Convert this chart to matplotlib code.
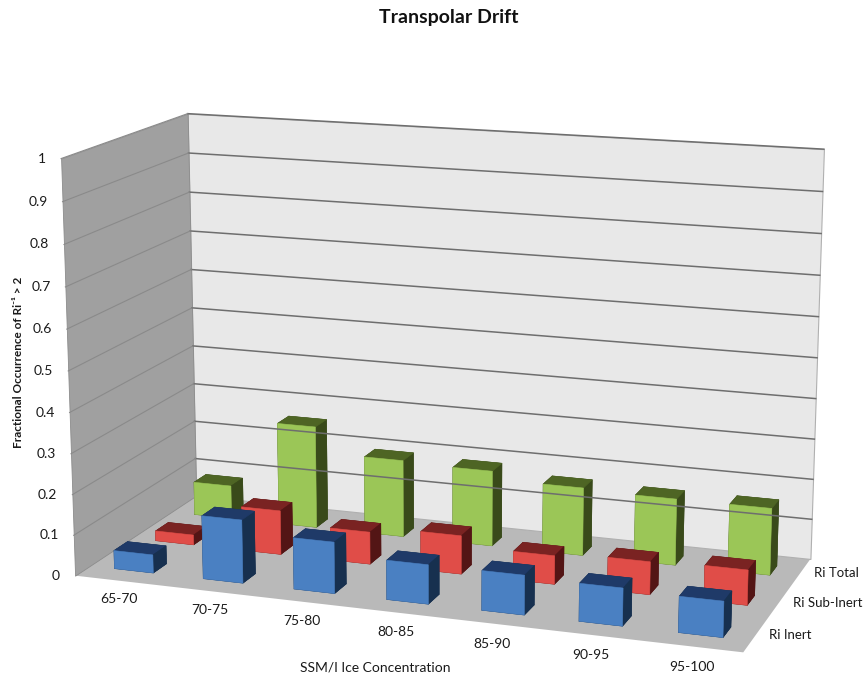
import matplotlib
matplotlib.use("Agg")
import matplotlib.pyplot as plt
import numpy as np
from mpl_toolkits.mplot3d import proj3d
from mpl_toolkits.mplot3d.art3d import Poly3DCollection

plt.rcParams['font.family'] = ['Lato', 'DejaVu Sans']

# ---- data -------------------------------------------------------------
categories = ["65-70", "70-75", "75-80", "80-85", "85-90", "90-95", "95-100"]
series_names = ["Ri Inert", "Ri Sub-Inert", "Ri Total"]
ri_inert = [0.045, 0.155, 0.125, 0.095, 0.095, 0.09, 0.085]
ri_sub_inert = [0.025, 0.11, 0.08, 0.095, 0.07, 0.08, 0.085]
ri_total = [0.085, 0.26, 0.195, 0.19, 0.17, 0.165, 0.165]
z_ticks = [0, 0.1, 0.2, 0.3, 0.4, 0.5, 0.6, 0.7, 0.8, 0.9, 1]
z_tick_labels = ["0", "0.1", "0.2", "0.3", "0.4", "0.5", "0.6", "0.7", "0.8", "0.9", "1"]

series_values = [ri_inert, ri_sub_inert, ri_total]
# front, top, right-side shades for each series
series_colors = [
    ("#4a80c2", "#1f3a68", "#17304f"),
    ("#e04d48", "#7a2322", "#531515"),
    ("#9bc657", "#4e6524", "#394a1a"),
]

W, H = 863, 679
fig = plt.figure(figsize=(W / 100, H / 100), dpi=100)
ax = fig.add_axes([0, 0, 1, 1], projection='3d', computed_zorder=False)
ax.set_proj_type('persp', focal_length=0.62)
ax.view_init(elev=14.0, azim=-70.8)
ax.set_box_aspect((1, 0.432, 0.618))
n_cat, n_ser = len(categories), len(series_names)
ax.set_xlim(0, n_cat)
ax.set_ylim(0, n_ser)
ax.set_zlim(0, 1)
ax.set_axis_off()

# ---- walls and floor --------------------------------------------------
floor = [[(0, 0, 0), (n_cat, 0, 0), (n_cat, n_ser, 0), (0, n_ser, 0)]]
back = [[(0, n_ser, 0), (n_cat, n_ser, 0), (n_cat, n_ser, 1), (0, n_ser, 1)]]
left = [[(0, 0, 0), (0, n_ser, 0), (0, n_ser, 1), (0, 0, 1)]]
ax.add_collection3d(Poly3DCollection(floor, facecolors="#b9b9b9", edgecolors="none"))
ax.add_collection3d(Poly3DCollection(back, facecolors="#e8e8e8", edgecolors="#b0b0b0", linewidths=0.8))
ax.add_collection3d(Poly3DCollection(left, facecolors="#a0a0a0", edgecolors="#8c8c8c", linewidths=0.6))

for z in z_ticks[1:]:
    ax.plot([0, n_cat], [n_ser, n_ser], [z, z], color="#6e6e6e", lw=1.1)
    ax.plot([0, 0], [0, n_ser], [z, z], color="#8a8a8a", lw=0.8)

# ---- bars (drawn back row first, left to right) ------------------------
bw, bd = 0.44, 0.32
for j in reversed(range(n_ser)):
    front, top, side = series_colors[j]
    for i, v in enumerate(series_values[j]):
        cols = [side, top, front, side, side, side]
        ax.bar3d(i + 0.5 - bw / 2, j + 0.5 - bd / 2, 0, bw, bd, v,
                 color=cols, shade=False, edgecolor=cols, linewidth=0.4)

# ---- fit the projected box into the chart area ------------------------
fig.canvas.draw()


def to_px(x, y, z):
    X, Y, _ = proj3d.proj_transform(x, y, z, ax.get_proj())
    return ax.transData.transform((X, Y))


corners = np.array([to_px(x, y, z) for x in (0, n_cat) for y in (0, n_ser) for z in (0, 1)])
pos = ax.get_position()
S0 = pos.width * W
org0 = np.array([pos.x0 * W, pos.y0 * H])
u = (corners - org0) / S0
left_px, right_px, top_px, bottom_px = 62, 823, H - 113, H - 653
sx = (right_px - left_px) / (u[:, 0].max() - u[:, 0].min())
sy = (top_px - bottom_px) / (u[:, 1].max() - u[:, 1].min())
S1 = 0.5 * (sx + sy)
ox = 0.5 * (left_px + right_px) - S1 * 0.5 * (u[:, 0].max() + u[:, 0].min())
oy = 0.5 * (top_px + bottom_px) - S1 * 0.5 * (u[:, 1].max() + u[:, 1].min())
ax.set_position([ox / W, oy / H, S1 / W, S1 / H])
fig.canvas.draw()

# ---- labels -------------------------------------------------------------
txt = dict(color="#1a1a1a", fontsize=10)
for z, lab in zip(z_ticks, z_tick_labels):
    px, py = to_px(0, 0, z)
    fig.text((px - 15) / W, py / H, lab, ha='right', va='center', **txt)

for i, lab in enumerate(categories):
    px, py = to_px(i + 0.5, 0, 0)
    t = i / (n_cat - 1)
    fig.text(px / W, (py - 18 - 3 * t) / H, lab, ha='center', va='center', **txt)

for j, lab in enumerate(series_names):
    px, py = to_px(n_cat, j + 0.5, 0)
    fig.text((px + 14) / W, py / H, lab, ha='left', va='center',
             color="#1a1a1a", fontsize=9.5)

fig.text(375 / W, 1 - 667 / H, "SSM/I Ice Concentration", ha='center', va='center', **txt)
fig.text(18 / W, 1 - 362 / H, "Fractional Occurrence of Ri\u207b\u00b9 > 2", rotation=90,
         ha='center', va='center', fontsize=8.5, fontweight='bold', color="#1a1a1a")
fig.text(449 / W, 1 - 17 / H, "Transpolar Drift", ha='center', va='center',
         fontsize=14, fontweight='bold', color="#111111")

fig.savefig("out.png", dpi=100)
